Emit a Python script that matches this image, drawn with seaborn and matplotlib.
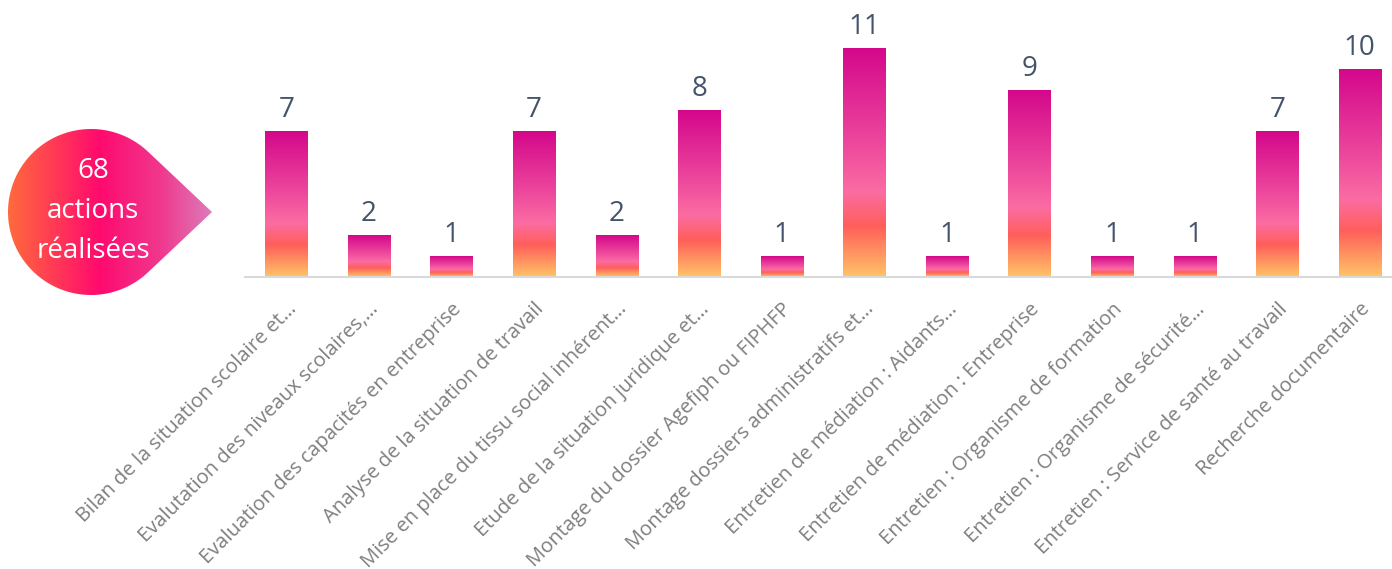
import numpy as np
import matplotlib
matplotlib.use("Agg")
import matplotlib.pyplot as plt
from matplotlib.colors import LinearSegmentedColormap
from matplotlib.path import Path
from matplotlib.patches import PathPatch
import seaborn as sns

# data
categories = [
    "Bilan de la situation scolaire et…",
    "Evalutation des niveaux scolaires,…",
    "Evaluation des capacités en entreprise",
    "Analyse de la situation de travail",
    "Mise en place du tissu social inhérent…",
    "Etude de la situation juridique et…",
    "Montage du dossier Agefiph ou FIPHFP",
    "Montage dossiers administratifs et…",
    "Entretien de médiation : Aidants…",
    "Entretien de médiation : Entreprise",
    "Entretien : Organisme de formation",
    "Entretien : Organisme de sécurité…",
    "Entretien : Service de santé au travail",
    "Recherche documentaire",
]
values = [7, 2, 1, 7, 2, 8, 1, 11, 1, 9, 1, 1, 7, 10]
total_text = "68\nactions\nréalisées"

sns.set_style("white")
plt.rcParams["font.family"] = ["Open Sans", "DejaVu Sans"]

W, H = 1392, 569
fig = plt.figure(figsize=(W / 100, H / 100), dpi=100)

# bar axes, placed in pixel terms
left_px, base_px = 245, 277
ax = fig.add_axes([left_px / W, (H - base_px) / H, (W - left_px) / W, 250 / H])

sns.barplot(x=categories, y=values, ax=ax, width=0.51, color="#D40A8C")

bar_cmap = LinearSegmentedColormap.from_list("bar", [
    (0.0, "#FFC468"), (0.22, "#FF5F5A"), (0.37, "#FB6CA2"),
    (0.6, "#EC459C"), (1.0, "#D4078B")])
grad = np.linspace(0, 1, 256).reshape(-1, 1)
for p in ax.patches:
    x0, y0 = p.get_x(), p.get_y()
    w, h = p.get_width(), p.get_height()
    im = ax.imshow(grad, cmap=bar_cmap, origin="lower", aspect="auto",
                   extent=[x0, x0 + w, y0, y0 + h], zorder=2)
    im.set_clip_path(p)
    p.set_facecolor("none")
    p.set_edgecolor("none")

ax.bar_label(ax.containers[0], labels=[str(v) for v in values], padding=5,
             fontsize=20, color="#44546A")

ax.set_xlim(-0.5, 13.39)
ax.set_ylim(0, 12)
ax.set_yticks([])
ax.set_ylabel("")
sns.despine(ax=ax, left=True)
ax.spines["bottom"].set_color("#D9D9D9")
ax.spines["bottom"].set_linewidth(1.5)
ax.tick_params(axis="x", length=0, pad=16, labelsize=14.5, labelcolor="#7F7F7F")
for t in ax.get_xticklabels():
    t.set_rotation(45)
    t.set_ha("right")
    t.set_rotation_mode("anchor")

# teardrop bubble on an overlay in pixel coordinates
ov = fig.add_axes([0, 0, 1, 1], zorder=-1)
ov.set_xlim(0, W)
ov.set_ylim(H, 0)
ov.axis("off")
cx, cy, r, tipx = 91, 212, 83, 212
th = np.arccos(r / (tipx - cx))
ang = np.linspace(th, 2 * np.pi - th, 200)
verts = [(cx + r * np.cos(a), cy + r * np.sin(a)) for a in ang] + [(tipx, cy), (cx + r * np.cos(th), cy + r * np.sin(th))]
drop = PathPatch(Path(verts), facecolor="none", edgecolor="none")
ov.add_patch(drop)
bub_cmap = LinearSegmentedColormap.from_list("bub", [
    (0.0, "#FF6A3C"), (0.45, "#FF0A6E"), (0.75, "#F0388E"), (1.0, "#DC7CB8")])
bim = ov.imshow(np.linspace(0, 1, 256).reshape(1, -1), cmap=bub_cmap, aspect="auto",
                extent=[cx - r, tipx, cy + r, cy - r])
bim.set_clip_path(drop)
ov.set_xlim(0, W)
ov.set_ylim(H, 0)
ov.text(93, 211, total_text, ha="center", va="center", color="white",
        fontsize=20, linespacing=1.55)

fig.savefig("out.png", dpi=100)
